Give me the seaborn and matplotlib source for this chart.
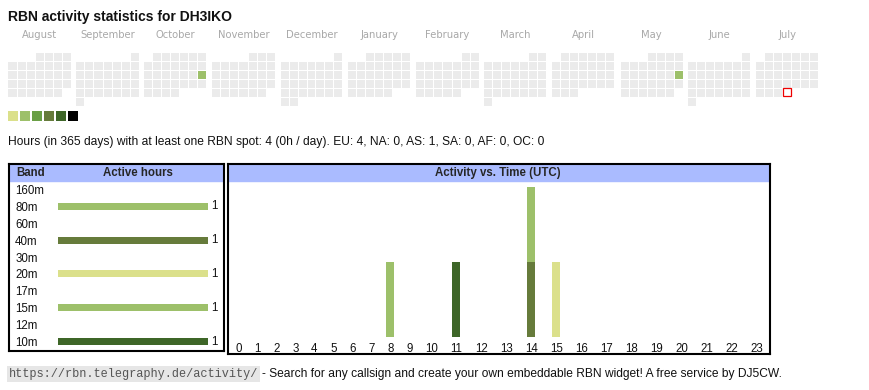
import calendar
import datetime as dt

import numpy as np
import pandas as pd
import matplotlib
matplotlib.use("Agg")
import matplotlib.pyplot as plt
import seaborn as sns
from matplotlib.colors import ListedColormap
from matplotlib.patches import Rectangle

# ---------------- data ----------------
callsign = "DH3IKO"
month_names = ["August", "September", "October", "November", "December", "January",
               "February", "March", "April", "May", "June", "July"]
month_years = [2024, 2024, 2024, 2024, 2024, 2025, 2025, 2025, 2025, 2025, 2025, 2025]
month_numbers = [8, 9, 10, 11, 12, 1, 2, 3, 4, 5, 6, 7]
active_days = ["2024-10-20", "2025-05-18"]
active_day_hours = [2, 2]
today = "2025-07-31"

level_colors = ["#dbe08b", "#9dc06a", "#6a9f46", "#667b3b", "#3e6628", "#000000"]
level_values = [1, 2, 3, 4, 5, 6]
empty_color = "#ebebeb"

stats_text = ("Hours (in 365 days) with at least one RBN spot: 4 (0h / day). "
              "EU: 4, NA: 0, AS: 1, SA: 0, AF: 0, OC: 0")

bands = ["160m", "80m", "60m", "40m", "30m", "20m", "17m", "15m", "12m", "10m"]
band_hours = [0, 1, 0, 1, 0, 1, 0, 1, 0, 1]
band_colors = ["#9dc06a", "#9dc06a", "#9dc06a", "#667b3b", "#9dc06a",
               "#dbe08b", "#9dc06a", "#9dc06a", "#9dc06a", "#3e6628"]

hours = list(range(24))
act_hours = [8, 11, 14, 14, 15]
act_bands = ["80m", "10m", "40m", "15m", "20m"]
act_counts = [1, 1, 1, 1, 1]

url_text = "https://rbn.telegraphy.de/activity/"
footer_text = "- Search for any callsign and create your own embeddable RBN widget! A free service by DJ5CW."

# ---------------- figure helpers ----------------
W, H = 870, 390
sns.set_theme(style="white")
plt.rcParams["font.family"] = ["Liberation Sans", "DejaVu Sans"]
fig = plt.figure(figsize=(W / 100, H / 100), dpi=100)
fig.patch.set_facecolor("white")


def px_axes(left, top, width, height):
    return fig.add_axes([left / W, 1 - (top + height) / H, width / W, height / H])


def ftext(x, y, s, **kw):
    kw.setdefault("va", "center")
    return fig.text(x / W, 1 - y / H, s, **kw)


# ---------------- title ----------------
ftext(8, 17, f"RBN activity statistics for {callsign}", fontsize=10.0,
      fontweight="bold", color="#111111")

# ---------------- calendar ----------------
day_map = {pd.Timestamp(d).date(): v for d, v in zip(active_days, active_day_hours)}
today_d = pd.Timestamp(today).date()
cmap = ListedColormap([empty_color] + level_colors)

for i, (mname, yr, mo) in enumerate(zip(month_names, month_years, month_numbers)):
    first_wd, ndays = calendar.monthrange(yr, mo)
    grid = np.full((6, 7), np.nan)
    today_cell = None
    for d in range(1, ndays + 1):
        idx = first_wd + d - 1
        date = dt.date(yr, mo, d)
        if date == today_d:
            today_cell = (idx // 7, idx % 7)
            continue
        grid[idx // 7, idx % 7] = day_map.get(date, 0)
    left = 8 + 68 * i
    ax = px_axes(left - 0.5, 51.5, 63, 54)
    sns.heatmap(grid, ax=ax, cmap=cmap, vmin=-0.5, vmax=6.5, cbar=False,
                mask=np.isnan(grid), linewidths=0.72, linecolor="white",
                xticklabels=False, yticklabels=False, square=False)
    ax.set_facecolor("white")
    if today_cell is not None:
        r, c = today_cell
        ax.add_patch(Rectangle((c + 0.11, r + 0.11), 0.78, 0.78, facecolor="white",
                               edgecolor="#ee0000", linewidth=0.9, zorder=5))
    ftext(left + 31.5, 35, mname, ha="center", fontsize=7.2, color="#a8a8a8",
          family="DejaVu Sans")

# legend of levels
lax = px_axes(7, 110, 72, 12)
sns.heatmap(np.array([level_values]), ax=lax, cmap=ListedColormap(level_colors),
            vmin=0.5, vmax=6.5, cbar=False, linewidths=1.44, linecolor="white",
            xticklabels=False, yticklabels=False)

# stats line
ftext(8, 142, stats_text, fontsize=8.68, color="#111111")

# ---------------- band table ----------------
HEADER_BLUE = "#aabbff"
fb = px_axes(9, 164, 215, 187)
fb.set_xlim(0, 215)
fb.set_ylim(187, 0)
fb.axhspan(1, 17, color=HEADER_BLUE, zorder=0)
fb.set_xticks([])
fb.set_yticks([])
for sp in fb.spines.values():
    sp.set_linewidth(1.5)
    sp.set_color("black")
    sp.set_visible(True)
ftext(16, 173, "Band", fontsize=8.3, fontweight="bold")
ftext(138, 173, "Active hours", fontsize=8.3, fontweight="bold", ha="center")

bx = px_axes(58, 181, 150, 169)
bdf = pd.DataFrame({"band": bands, "hours": band_hours})
sns.barplot(data=bdf, x="hours", y="band", hue="band", order=bands, hue_order=bands,
            palette=dict(zip(bands, band_colors)), orient="h", width=0.42,
            ax=bx, legend=False, saturation=1, linewidth=0)
bx.set_xlim(0, max(band_hours))
bx.set_ylim(len(bands) - 0.5, -0.5)
bx.set_facecolor("none")
for sp in bx.spines.values():
    sp.set_visible(False)
bx.set_xticks([])
bx.set_xlabel("")
bx.set_ylabel("")
bx.set_yticks(range(len(bands)), labels=bands)
bx.tick_params(axis="y", length=0, pad=30.8, labelsize=8.3, labelcolor="#111111")
for lab in bx.get_yticklabels():
    lab.set_ha("left")
for i, v in enumerate(band_hours):
    if v:
        bx.annotate(str(v), xy=(v, i), xytext=(2.2, 0), textcoords="offset points",
                    va="center", ha="left", fontsize=8.3, color="#111111",
                    annotation_clip=False)

# ---------------- activity vs time ----------------
fa = px_axes(228, 164, 542, 190)
fa.set_xlim(0, 542)
fa.set_ylim(190, 0)
fa.axhspan(1, 17, color=HEADER_BLUE, zorder=0)
fa.set_xticks([])
fa.set_yticks([])
for sp in fa.spines.values():
    sp.set_linewidth(1.5)
    sp.set_color("black")
    sp.set_visible(True)
ftext(498, 173, "Activity vs. Time (UTC)", fontsize=8.3, fontweight="bold", ha="center")

# column widths of the hour table grow with the label length
col_w = np.array([13 + 6 * len(str(h)) for h in hours], dtype=float)
col_c = np.cumsum(col_w) - col_w / 2

adf = pd.DataFrame({"hour": act_hours, "band": act_bands, "n": act_counts})
piv = adf.pivot_table(index="hour", columns="band", values="n", aggfunc="sum").reindex(
    index=hours, columns=bands).fillna(0)
ymax = piv.sum(axis=1).max()

ax2 = px_axes(229, 186.7, col_w.sum(), 150)
bottom = np.zeros(len(hours))
for b, c in zip(bands, band_colors):
    vals = piv[b].to_numpy()
    if vals.sum() > 0:
        ax2.bar(col_c, vals, width=8, bottom=bottom, color=c, linewidth=0)
    bottom += vals
ax2.set_xlim(0, col_w.sum())
ax2.set_ylim(0, ymax)
ax2.set_facecolor("none")
for sp in ax2.spines.values():
    sp.set_visible(False)
ax2.set_yticks([])
ax2.set_xticks(col_c, labels=[str(h) for h in hours])
ax2.tick_params(axis="x", length=0, pad=4.3, labelsize=8.3, labelcolor="#111111")

# ---------------- footer ----------------
ftext(9, 374, url_text, fontsize=8.6, family="Liberation Mono", color="#555555",
      bbox=dict(boxstyle="square,pad=0.15", facecolor="#e6e6e6", edgecolor="none"))
ftext(262, 374, footer_text, fontsize=8.62, color="#111111")

fig.savefig("out.png", dpi=100, facecolor="white")
